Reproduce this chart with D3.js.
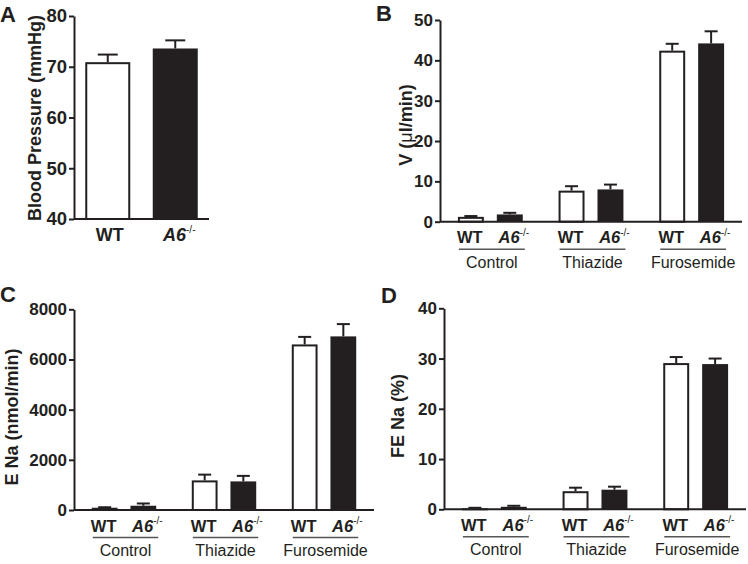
<!DOCTYPE html>
<html><head><meta charset="utf-8">
<script src="https://cdn.jsdelivr.net/npm/d3@7"></script>
<style>
html,body{margin:0;padding:0;background:#fff;}
svg{display:block;font-family:"Liberation Sans",Arial,sans-serif;}
</style></head>
<body>
<svg id="chart" width="748" height="564"></svg>
<script>
// ---- data ----
const genotypes = ["WT", "A6"];
const groups = ["Control", "Thiazide", "Furosemide"];

const bpMean = [70.9, 73.6];
const bpSem = [1.5, 1.6];
const bpTicks = [40, 50, 60, 70, 80];

const vWT = [1.2, 7.7, 42.4];
const vWTsem = [0.2, 1.1, 1.7];
const vA6 = [1.8, 8.0, 44.2];
const vA6sem = [0.4, 1.2, 3.0];
const vTicks = [0, 10, 20, 30, 40, 50];

const eWT = [90, 1180, 6600];
const eWTsem = [20, 230, 300];
const eA6 = [170, 1140, 6920];
const eA6sem = [90, 220, 490];
const eTicks = [0, 2000, 4000, 6000, 8000];

const fWT = [0.2, 3.6, 29.1];
const fWTsem = [0.1, 0.7, 1.2];
const fA6 = [0.5, 3.9, 28.9];
const fA6sem = [0.2, 0.6, 1.1];
const fTicks = [0, 10, 20, 30, 40];

const INK = "#231f20";
const svg = d3.select("#chart");

function genoLabel(sel, g, size, supSize) {
  if (g === "WT") {
    sel.append("tspan").text("WT");
  } else {
    sel.append("tspan").attr("font-style", "italic").text("A6");
    sel.append("tspan").attr("font-size", supSize).attr("font-weight", "normal")
      .attr("dy", -size * 0.45).text("-/-");
  }
}

function drawAxisY(g, y, ticks, x0, fontSize) {
  const ax = d3.axisLeft(y).tickValues(ticks).tickSize(5).tickSizeOuter(0).tickPadding(2)
    .tickFormat(d3.format("d"));
  const a = g.append("g").attr("transform", `translate(${x0},0)`).call(ax);
  a.select(".domain").attr("stroke", INK).attr("stroke-width", 2);
  a.selectAll(".tick line").attr("stroke", INK).attr("stroke-width", 2);
  a.selectAll(".tick text").attr("fill", INK).attr("font-size", fontSize)
    .attr("font-weight", "bold").attr("font-family", "Liberation Sans, Arial, sans-serif");
}

function bar(g, x, w, y, mean, sem, gi, capW) {
  const y0 = y.range()[0];
  g.append("line").attr("x1", x + w / 2).attr("x2", x + w / 2)
    .attr("y1", y(mean)).attr("y2", y(mean + sem))
    .attr("stroke", INK).attr("stroke-width", 2);
  g.append("line").attr("x1", x + w / 2 - capW / 2).attr("x2", x + w / 2 + capW / 2)
    .attr("y1", y(mean + sem)).attr("y2", y(mean + sem))
    .attr("stroke", INK).attr("stroke-width", 2);
  if (gi === 0) {
    g.append("rect").attr("x", x + 1).attr("y", y(mean) + 1)
      .attr("width", w - 2).attr("height", Math.max(0, y0 - y(mean) - 1))
      .attr("fill", "#fff").attr("stroke", INK).attr("stroke-width", 2);
  } else {
    g.append("rect").attr("x", x).attr("y", y(mean))
      .attr("width", w).attr("height", y0 - y(mean))
      .attr("fill", INK);
  }
}

function yTitle(g, x, y, build) {
  const t = g.append("text").attr("transform", `translate(${x},${y}) rotate(-90)`)
    .attr("text-anchor", "middle").attr("font-size", 18).attr("font-weight", "bold")
    .attr("fill", INK);
  build(t);
}

function panelLetter(g, letter, x, y) {
  g.append("text").attr("x", x).attr("y", y).attr("font-size", 22)
    .attr("font-weight", "bold").attr("fill", INK).text(letter);
}

// ---- Panel A ----
(function () {
  const g = svg.append("g");
  const L = 74, R = 209, T = 16, B = 219;
  const y = d3.scaleLinear().domain([40, 80]).range([B, T]);
  const x = d3.scaleBand().domain(genotypes).range([L, R]).paddingInner(1 / 3).paddingOuter(1 / 6);
  genotypes.forEach((gn, i) => bar(g, x(gn), x.bandwidth(), y, bpMean[i], bpSem[i], i, 20));
  drawAxisY(g, y, bpTicks, L, 18.5);
  g.append("line").attr("x1", L).attr("x2", R).attr("y1", B).attr("y2", B)
    .attr("stroke", INK).attr("stroke-width", 2);
  genotypes.forEach((gn, i) => {
    const t = g.append("text").attr("x", x(gn) + x.bandwidth() / 2 + (i ? 4 : 2)).attr("y", B + 22)
      .attr("text-anchor", "middle").attr("font-size", 18).attr("font-weight", "bold").attr("fill", INK);
    genoLabel(t, gn, 18, 10);
  });
  yTitle(g, 41, 118, t => t.text("Blood Pressure (mmHg)"));
  panelLetter(g, "A", 0, 22);
})();

// ---- grouped panels ----
function groupedPanel(cfg) {
  const g = svg.append("g");
  const { L, R, T, B } = cfg;
  const y = d3.scaleLinear().domain([cfg.ticks[0], cfg.ticks[cfg.ticks.length - 1]]).range([B, T]);
  const xo = d3.scaleBand().domain(groups).range([L, R]).padding(0);
  const xi = d3.scaleBand().domain(genotypes).range([0, xo.bandwidth()])
    .paddingInner(1 / 3).paddingOuter(0.46);
  groups.forEach((gr, j) => {
    bar(g, xo(gr) + xi("WT"), xi.bandwidth(), y, cfg.wt[j], cfg.wtSem[j], 0, 13);
    bar(g, xo(gr) + xi("A6"), xi.bandwidth(), y, cfg.a6[j], cfg.a6Sem[j], 1, 13);
  });
  drawAxisY(g, y, cfg.ticks, L, 17);
  g.append("line").attr("x1", L).attr("x2", R).attr("y1", B).attr("y2", B)
    .attr("stroke", INK).attr("stroke-width", 2);
  groups.forEach(gr => {
    genotypes.forEach((gn, i) => {
      const t = g.append("text").attr("x", xo(gr) + xi(gn) + xi.bandwidth() / 2 + (i ? 4 : -1))
        .attr("y", B + 21.5).attr("text-anchor", "middle").attr("font-size", 16.5)
        .attr("font-weight", "bold").attr("fill", INK);
      genoLabel(t, gn, 16.5, 10);
    });
    const x1 = xo(gr) + xi("WT") + 1, x2 = xo(gr) + xi("A6") + xi.bandwidth() + 2;
    g.append("line").attr("x1", x1).attr("x2", x2).attr("y1", B + 27.5).attr("y2", B + 27.5)
      .attr("stroke", "#555").attr("stroke-width", 1.5);
    g.append("text").attr("x", (x1 + x2) / 2).attr("y", B + 46).attr("text-anchor", "middle")
      .attr("font-size", 16).attr("fill", INK).text(gr);
  });
  yTitle(g, cfg.titleX, cfg.titleY, cfg.title);
  panelLetter(g, cfg.letter, cfg.letterX, cfg.letterY);
}

groupedPanel({
  L: 440, R: 742, T: 20, B: 221.7, ticks: vTicks,
  wt: vWT, wtSem: vWTsem, a6: vA6, a6Sem: vA6sem,
  titleX: 412, titleY: 125,
  title: t => {
    t.append("tspan").text("V (");
    t.append("tspan").attr("font-weight", "normal").text("μ");
    t.append("tspan").text("l/min)");
  },
  letter: "B", letterX: 376, letterY: 21
});

groupedPanel({
  L: 74, R: 374, T: 309.3, B: 510, ticks: eTicks,
  wt: eWT, wtSem: eWTsem, a6: eA6, a6Sem: eA6sem,
  titleX: 18, titleY: 417,
  title: t => t.text("E Na (nmol/min)"),
  letter: "C", letterX: 0, letterY: 302
});

groupedPanel({
  L: 444, R: 746, T: 308.3, B: 509.3, ticks: fTicks,
  wt: fWT, wtSem: fWTsem, a6: fA6, a6Sem: fA6sem,
  titleX: 404, titleY: 416,
  title: t => t.text("FE Na (%)"),
  letter: "D", letterX: 381, letterY: 303
});
</script>
</body></html>
